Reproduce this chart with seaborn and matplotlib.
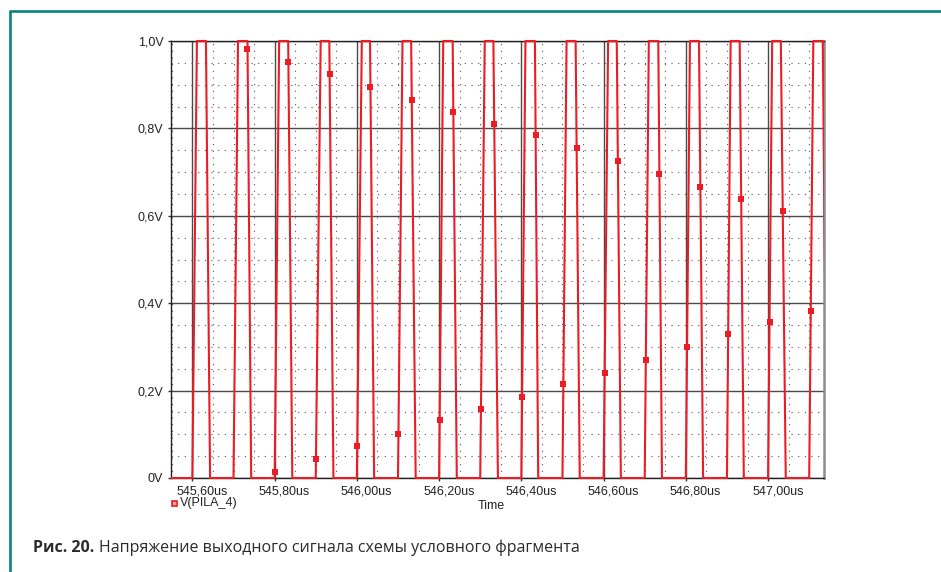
import numpy as np
import pandas as pd
import matplotlib
matplotlib.use('Agg')
import matplotlib.pyplot as plt
import matplotlib.transforms as mtransforms
from matplotlib.lines import Line2D
from matplotlib.patches import Rectangle
from matplotlib.ticker import FixedLocator, MultipleLocator
import seaborn as sns

# Pulse corners of V(PILA_4), in us
rise_start = [545.600, 545.700, 545.800, 545.900, 546.000, 546.100, 546.200, 546.300,
              546.400, 546.500, 546.600, 546.700, 546.800, 546.900, 547.000, 547.100]
rise_end = [545.611, 545.711, 545.811, 545.912, 546.012, 546.111, 546.210, 546.311,
            546.410, 546.510, 546.611, 546.710, 546.810, 546.909, 547.010, 547.110]
fall_start = [545.633, 545.734, 545.833, 545.933, 546.032, 546.132, 546.233, 546.332,
              546.433, 546.532, 546.632, 546.733, 546.832, 546.931, 547.031, 547.133]
fall_end = [545.643, 545.743, 545.843, 545.943, 546.042, 546.143, 546.243, 546.343,
            546.441, 546.542, 546.642, 546.742, 546.842, 546.941, 547.043, 547.143]
low_level = 0.0
high_level = 1.0
t_begin = 545.54

# Marker points sitting on the falling / rising edges
upper_t = [545.7340, 545.8335, 545.9338, 546.0330, 546.1335, 546.2346, 546.3341,
           546.4347, 546.5345, 546.6348, 546.7357, 546.8353, 546.9346, 547.0357]
upper_v = [0.981, 0.953, 0.924, 0.895, 0.865, 0.837, 0.810,
           0.785, 0.755, 0.725, 0.696, 0.667, 0.639, 0.612]
lower_t = [545.8002, 545.9005, 546.0009, 546.1011, 546.2013, 546.3017, 546.4019,
           546.5022, 546.6026, 546.7027, 546.8030, 546.9030, 547.0036, 547.1038]
lower_v = [0.014, 0.043, 0.073, 0.101, 0.133, 0.158, 0.185,
           0.215, 0.240, 0.270, 0.300, 0.330, 0.357, 0.382]

x_ticks = [545.60, 545.80, 546.00, 546.20, 546.40, 546.60, 546.80, 547.00]
x_labels = ['545,60us', '545,80us', '546,00us', '546,20us',
            '546,40us', '546,60us', '546,80us', '547,00us']
y_ticks = [0.0, 0.2, 0.4, 0.6, 0.8, 1.0]
y_labels = ['0V', '0,2V', '0,4V', '0,6V', '0,8V', '1,0V']

trace_name = 'V(PILA_4)'
caption_bold = 'Рис. 20.'
caption_text = 'Напряжение выходного сигнала схемы условного фрагмента'

RED = '#ec1c24'
TEAL = '#08837a'

# build the waveform table from the corners
t_vals = [t_begin]
v_vals = [low_level]
for rs, re_, fs, fe in zip(rise_start, rise_end, fall_start, fall_end):
    t_vals += [rs, re_, fs, fe]
    v_vals += [low_level, high_level, high_level, low_level]
wave = pd.DataFrame({'t': t_vals, 'v': v_vals})
marks = pd.DataFrame({'t': upper_t + lower_t, 'v': upper_v + lower_v})

sns.set_theme(style='white')
plt.rcParams['font.family'] = ['Liberation Sans', 'DejaVu Sans']

fig = plt.figure(figsize=(9.41, 5.72), dpi=100)
ax = fig.add_axes([171 / 941, 1 - 478 / 572, (824 - 171) / 941, (478 - 41) / 572])

sns.lineplot(data=wave, x='t', y='v', estimator=None, sort=False,
             color=RED, lw=1.5, ax=ax, zorder=4)
sns.scatterplot(data=marks, x='t', y='v', marker='s', s=13, color=RED,
                linewidth=0, ax=ax, zorder=5)

# let the flat tops / bottoms show over the frame
clip = Rectangle((0, -0.01), 1, 1.02, transform=ax.transAxes)
for ln in ax.lines:
    ln.set_clip_path(clip)

ax.set_xlim(545.548, 547.136)
ax.set_ylim(0, 1.0)
ax.xaxis.set_major_locator(FixedLocator(x_ticks))
ax.set_xticklabels(x_labels)
ax.xaxis.set_minor_locator(MultipleLocator(0.05))
ax.yaxis.set_major_locator(FixedLocator(y_ticks))
ax.set_yticklabels(y_labels)
ax.yaxis.set_minor_locator(MultipleLocator(0.05))

ax.set_axisbelow(True)
ax.grid(which='major', color='#4a4a4a', lw=1.0, ls='-')
ax.grid(which='minor', color='#555555', lw=0.8, ls=(0, (1, 5)))
ax.tick_params(which='minor', length=0)
ax.tick_params(which='major', length=2.5, width=1, color='#333333',
               labelsize=9, labelcolor='#222222', pad=3, left=True, bottom=True)
ax.set_xlabel('')
ax.set_ylabel('')

# PSpice puts the time labels a bit to the right of the tick
shift = mtransforms.ScaledTranslation(7 / 72, 0, fig.dpi_scale_trans)
for lbl in ax.get_xticklabels():
    lbl.set_transform(lbl.get_transform() + shift)

for side in ['left', 'bottom', 'top']:
    ax.spines[side].set_color('#222222')
    ax.spines[side].set_linewidth(1.0)
ax.spines['right'].set_color('#8c8c8c')
ax.spines['right'].set_linewidth(1.8)

fig.text(491 / 941, 1 - 506 / 572, 'Time', fontsize=9, color='#222222',
         ha='center', va='center')

# legend entry under the axis
fig.add_artist(Line2D([173.5 / 941], [1 - 503 / 572], marker='s', ms=3.6,
                      mfc='#f7a3a6', mec=RED, mew=1.2, ls='none',
                      transform=fig.transFigure))
fig.text(180 / 941, 1 - 503 / 572, trace_name, fontsize=9, color='#222222',
         ha='left', va='center')

# caption
cap_font = ['Open Sans', 'DejaVu Sans']
t1 = fig.text(33 / 941, 1 - 552 / 572, caption_bold, fontsize=11.5, fontweight='bold',
              color='#2b2b2b', family=cap_font, ha='left', va='baseline')
renderer = fig.canvas.get_renderer()
bb = t1.get_window_extent(renderer=renderer)
fig.text((bb.x1 + 5) / (fig.dpi * 9.41), 1 - 552 / 572, caption_text, fontsize=11.5,
         color='#2b2b2b', family=cap_font, ha='left', va='baseline')

# teal page frame
fig.add_artist(Line2D([10.3 / 941, 10.3 / 941], [1 - 10.5 / 572, 0], color=TEAL,
                      lw=1.9, solid_capstyle='butt', transform=fig.transFigure))
fig.add_artist(Line2D([9 / 941, 1], [1 - 10.5 / 572, 1 - 10.5 / 572], color=TEAL,
                      lw=1.9, solid_capstyle='butt', transform=fig.transFigure))

fig.savefig('out.png', dpi=100)
